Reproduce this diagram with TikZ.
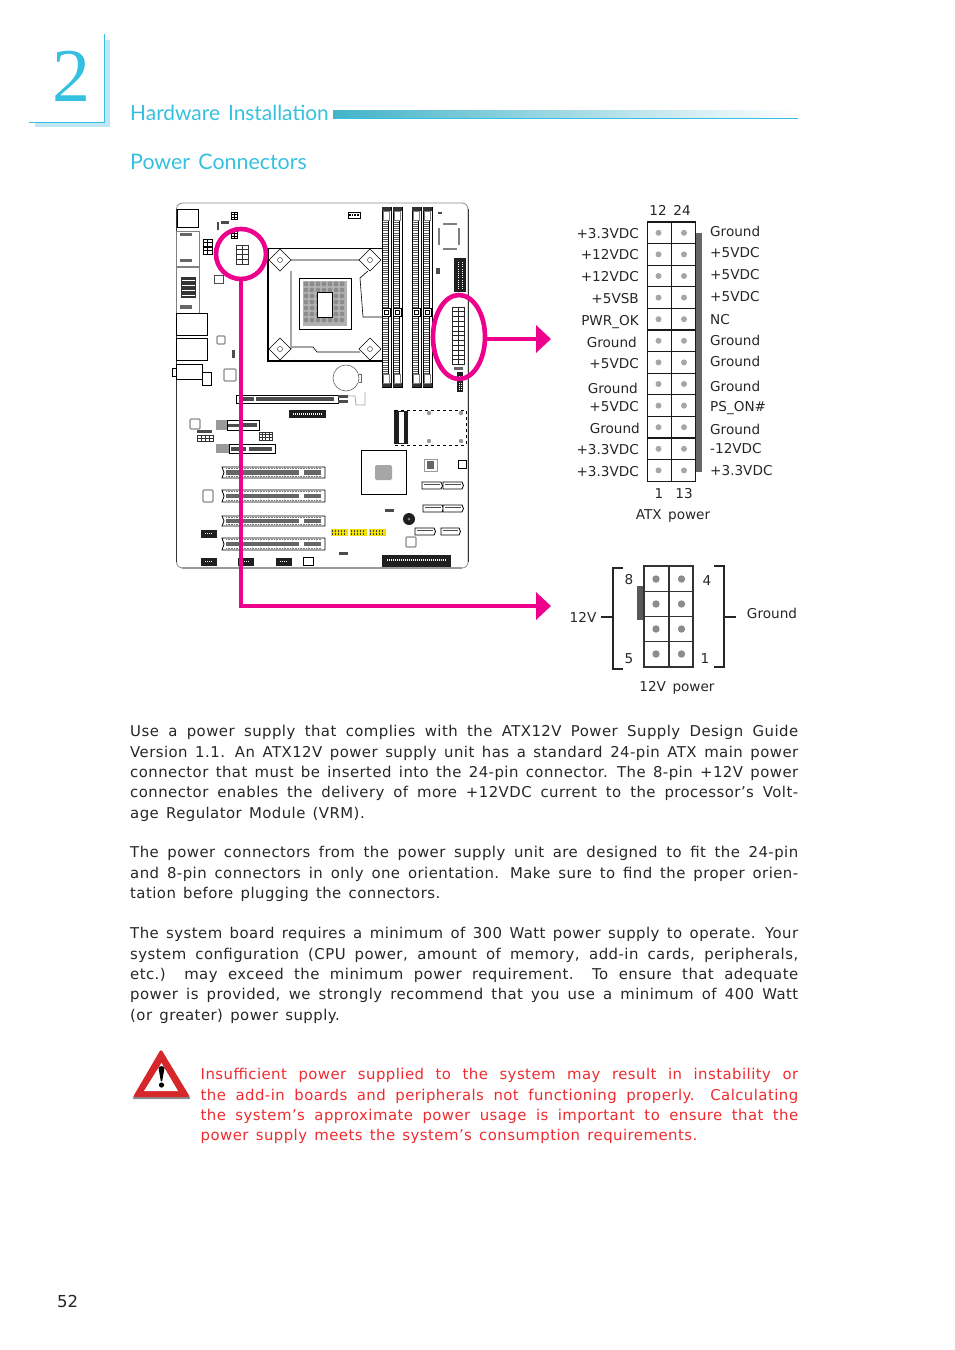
\documentclass[tikz,border=0pt]{standalone}
\usepackage{fontspec}
\setmainfont{DejaVu Sans}
\newfontfamily\bodyfont[LetterSpace=3, WordSpace=1.4]{DejaVu Sans}
\newfontfamily\labelfont[WordSpace=1.5]{DejaVu Sans}
\newfontfamily\headfont[WordSpace=1.5]{Lato}
\newfontfamily\numfont{Liberation Serif}
\usetikzlibrary{positioning, arrows.meta, shapes.geometric}
\definecolor{headcyan}{HTML}{35C0DF}
\definecolor{headshade}{HTML}{BFE6F1}
\definecolor{barteal}{HTML}{43B4C8}
\definecolor{ringpink}{HTML}{EC008C}
\definecolor{warnred}{HTML}{EE2B2F}
\definecolor{pinyellow}{HTML}{F0E000}
\newcommand{\pingrid}[6][black]{%
	\foreach \pc in {1,...,#4} \foreach \pr in {1,...,#5}
	\draw[#1, line width=.7, fill=white] ({#2+(\pc-1)*#6},{#3+(\pr-1)*#6*.8}) rectangle ++(#6,{#6*.8});
}
\newcommand{\dimmslot}[1]{%
	\draw[line width=.8, fill=white] (#1,207) rectangle ++(9,180);
	\foreach \ty in {222,224.2,...,376} {
		\draw[black!65, line width=.9] (#1+.5,\ty) -- ++(5,0);
	}
	\draw[line width=.6] (#1+6.5,220) -- ++(0,156);
	\fill[black!80] (#1,207) rectangle ++(9,4);
	\fill[black!80] (#1,383) rectangle ++(9,4);
	\draw[gray, fill=white, line width=.5] (#1+1.5,211) rectangle ++(6,9);
	\draw[gray, fill=white, line width=.5] (#1+1.5,374) rectangle ++(6,9);
	\draw[fill=white, line width=.8] (#1+.5,308) rectangle ++(8,8);
	\draw[line width=.8, fill=white] (#1+2.5,310) rectangle ++(4,4);
}
\newcommand{\pcislot}[2]{%
	\draw[line width=.8, fill=white] (222,#1) -- (325,#1) -- (325,#1+#2) -- (222,#1+#2) -- (224,#1+#2/2) -- cycle;
	\fill[black!60] (226,#1+#2/2-2.2) rectangle (299,#1+#2/2+2);
	\fill[black!60] (304,#1+#2/2-2.2) rectangle (321,#1+#2/2+2);
	\draw[black!55, line width=.7, dash pattern=on .8pt off .8pt] (226,#1+1.5) -- (321,#1+1.5);
	\draw[black!55, line width=.7, dash pattern=on .8pt off .8pt] (226,#1+#2-1.5) -- (321,#1+#2-1.5);
}
\newcommand{\sataport}[3]{%
	\draw[line width=.8, fill=white] (#1,#2) -- ++(#3,0) -- ++(1.5,3.5) -- ++(-1.5,3.5) -- ++(-#3,0) -- cycle;
	\fill[black!70] (#1+2,#2+1.5) rectangle ++(#3-3,1.5);
}
\begin{document}
\begin{tikzpicture}[
		x=1pt, y=-1pt,
		>=Stealth,
		bodytext/.style={anchor=north west, inner sep=0pt, align=justify, font=\bodyfont\fontsize{14.9}{20.35}\selectfont, text=black!85},
		pinlabel/.style={inner sep=0pt, text height=10pt, text depth=0pt, font=\labelfont\fontsize{13.6}{16}\selectfont, text=black!85},
		headtext/.style={anchor=base west, inner sep=0pt, text=headcyan},
		blackpart/.style={fill=black!88},
		greyring/.style={draw=black!45, line width=1.2, rounded corners=1pt},
		pinkring/.style={draw=ringpink, line width=4.6, inner sep=0pt, outer sep=0pt},
		pinkline/.style={draw=ringpink, line width=4.6, -{Triangle[length=15pt,width=27pt]}},
		bracket/.style={line width=1.5, black!85}
		]
		\useasboundingbox (0,0) rectangle (954,1350);
		
		% ==========================================
		% Page header
		% ==========================================
		\fill[headshade] (35,122) rectangle (110,127);
		\fill[headshade] (104,40) rectangle (110,127);
		\draw[headcyan, line width=1] (29,122) -- (104,122) -- (104,34);
		\node (chapter) [anchor=base, inner sep=0pt, font=\numfont\fontsize{76}{80}\selectfont, text=headcyan] at (71,101) {2};
		\node (section) [headtext, font=\headfont\fontsize{20.9}{26}\selectfont] at (130,120) {Hardware Installation};
		\node (subsection) [headtext, font=\headfont\fontsize{21.4}{26}\selectfont] at (130,169) {Power Connectors};
		\shade[left color=barteal, middle color=headcyan!60, right color=white] (333,110) rectangle (798,118);
		\draw[headcyan, line width=1] (333,118.5) -- (798,118.5);
		
		% ==========================================
		% Board outline and rear ports
		% ==========================================
		\draw[black!45, line width=.8, rounded corners=6pt, fill=white] (176.5,203) rectangle (468,568);
		\draw[black!80, line width=.8] (176.5,209) -- (176.5,562);
		\draw[black!80, line width=.8] (468,209) -- (468,562);
		\draw[black!40, line width=1.6] (182,568) -- (462,568);
		\draw[line width=.7, fill=white] (177,209) rectangle (198,227);
		\draw[black!50, line width=.7, fill=white] (176,231) rectangle (199,266);
		\draw[black!50, line width=.7, fill=white] (176,267) rectangle (199,313);
		\fill[black!80] (181,277) rectangle (196,298);
		\foreach \ry in {280,285,290,295} {
			\draw[white, line width=.8] (182,\ry) -- (195,\ry);
		}
		\fill[black!60] (180,233) rectangle (192,236);
		\fill[black!60] (180,259) rectangle (192,262);
		\fill[black!60] (180,305) rectangle (192,309);
		\draw[line width=.7, fill=white] (176,313) rectangle (207,335);
		\draw[line width=.7, fill=white] (176,338) rectangle (207,360);
		\draw[line width=.7, fill=white] (176,364) rectangle (202,379);
		\draw[line width=.7, fill=white] (172,368) rectangle (176,376);
		\draw[line width=.7, fill=white] (202,372) rectangle (211,385);
		
		% small headers, top left
		\pingrid{231}{212}{2}{3}{3.2}
		\pingrid{231}{231}{2}{3}{3.2}
		\pingrid{203}{239}{2}{2}{4.8}
		\pingrid{203}{247}{2}{2}{4.8}
		\fill[black!70] (221,221) rectangle (229,224);
		\fill[black!70] (217,222) rectangle (219,230);
		\draw[black!70, line width=.7] (214,275) rectangle (223,283);
		\draw[greyring] (217,336) rectangle (225,344);
		\fill[black!70] (232,350) rectangle (235,358);
		\draw[greyring] (224,369) rectangle (236,381);
		\pingrid[black!80]{236}{245}{2}{4}{6}
		\draw[line width=.8, fill=white] (348,212) rectangle (360,218);
		\draw[line width=2, dash pattern=on 1.5pt off 1.2pt] (349,215) -- (359,215);
		
		% ==========================================
		% CPU socket
		% ==========================================
		\draw[line width=.8] (268,248) -- (382,248);
		\draw[line width=1.2] (268,248) -- (268,361) -- (382,361);
		\draw[line width=.6] (291,260) -- (360,260) (291,271) -- (291,349) (292,347) -- (313,347) -- (317,352) -- (360,352)
		(368,271) -- (360,278) -- (363,317) -- (382,317);
		\foreach \sx/\sy in {280/260, 370/260, 280/349, 370/349} {
			\draw[line width=.6, fill=white] (\sx-11,\sy) -- (\sx,\sy-11) -- (\sx+11,\sy) -- (\sx,\sy+11) -- cycle;
			\draw[black!70, line width=.5] (\sx,\sy) circle (2.5);
		}
		\draw[line width=1, fill=white] (299,278) rectangle (351,329);
		\fill[black!30] (303,281) rectangle (347,326);
		\foreach \cx in {306,312,...,346} \foreach \cy in {284,290,...,324} {
			\fill[black!45] (\cx,\cy) circle (2.4);
		}
		\draw[line width=1, fill=white] (317,292) rectangle (332,317);
		
		% ==========================================
		% Memory slots and right edge
		% ==========================================
		\foreach \dx in {382,393,412,423} {
			\dimmslot{\dx}
		}
		\fill[black!70] (438,212) rectangle (442,214);
		\draw[black!50, line width=2.6] (443,224) -- (457,224) (443,249) -- (457,249) (439,228) -- (439,245) (459,228) -- (459,245);
		\fill[blackpart] (454,258) rectangle (466,292);
		\draw[white, line width=.9, dash pattern=on 1pt off 1.2pt] (458,262) -- (458,290) (462,262) -- (462,290);
		\fill[black!70] (436,268) rectangle (440,274);
		\pingrid[black!85]{452}{307}{2}{12}{6}
		\fill[black!60] (454,367) rectangle (463,370);
		\fill[blackpart] (457,372) rectangle (463,392);
		\draw[white, line width=.9, dash pattern=on 1pt off 1.2pt] (459,376) -- (459,391) (461,376) -- (461,391);
		\draw[black!60, line width=.6, fill=white] (346,378) circle (13);
		\draw[black!60, line width=.6] (359,374) -- (361,374) -- (361,382) -- (359,382);
		
		% ==========================================
		% Expansion slots
		% ==========================================
		\draw[line width=.8, fill=white] (236,395) rectangle (338,403);
		\fill[black!70] (240,397) rectangle (254,401);
		\fill[black!70] (256,397) rectangle (334,401);
		\fill[black!70] (338,395) rectangle (348,398);
		\fill[black!70] (338,400) rectangle (348,403);
		\draw[black!35, line width=.8] (348,396) -- (355,396) -- (356,405) -- (365,405) -- (365,392);
		\fill[blackpart] (289,410) rectangle (326,418);
		\draw[white, line width=1.2, dash pattern=on 1pt off 1pt] (293,414) -- (322,414);
		\draw[greyring] (190,419) rectangle (200,429);
		\fill[black!70] (197,430) rectangle (212,433);
		\pingrid[black!80]{197}{435}{4}{2}{4}
		\draw[line width=.8, fill=white] (227,420) rectangle (259,430);
		\fill[black!40] (216,420) rectangle (227,430);
		\fill[black!70] (228,424) rectangle (242,427);
		\fill[black!70] (243,423) rectangle (257,427);
		\draw[line width=.8, fill=white] (229,444) rectangle (275,453);
		\fill[black!40] (216,444) rectangle (229,453);
		\fill[black!70] (231,447) rectangle (246,451);
		\fill[black!70] (249,447) rectangle (272,451);
		\pingrid[black!80]{259}{432}{4}{3}{3.3}
		\pcislot{467}{11}
		\pcislot{490}{12}
		\pcislot{516}{10}
		\pcislot{538}{12}
		\draw[greyring] (203,490) rectangle (213,502);
		
		% ==========================================
		% Lower right parts
		% ==========================================
		\draw[line width=.9, dashed] (394,410) rectangle (466,445);
		\fill[blackpart] (394,411) rectangle (408,444);
		\fill[white] (399,412) rectangle (404,443);
		\foreach \hx/\hy in {429/413, 461/413, 429/441, 461/441} {
			\fill[black!40] (\hx,\hy) circle (2.2);
		}
		\draw[line width=.8, fill=white] (361,450) rectangle (406,494);
		\fill[black!35, rounded corners=1.5pt] (375,465) rectangle (392,480);
		\draw[black!40, line width=.7] (424,459) rectangle (437,471);
		\fill[black!60] (427,461) rectangle (434,469);
		\draw[line width=.9, fill=white] (458,460) rectangle (466,468);
		\sataport{422}{482}{19}
		\sataport{443}{482}{19}
		\sataport{423}{505}{19}
		\sataport{443}{505}{19}
		\sataport{415}{528}{19}
		\sataport{441}{528}{18}
		\fill[blackpart] (409,519) circle (6);
		\fill[black!50] (409,519) circle (1.5);
		\draw[greyring] (406,537) rectangle (416,547);
		\foreach \yx in {331,350,369} {
			\fill[pinyellow] (\yx,529) rectangle ++(17,7);
			\draw[black!75, line width=1.5, dash pattern=on 1pt off 2pt] (\yx+1,531) -- ++(15,0);
			\draw[black!75, line width=1.5, dash pattern=on 1pt off 2pt] (\yx+1,534) -- ++(15,0);
		}
		\fill[black!70] (385,509) rectangle (394,512);
		\fill[black!70] (339,552) rectangle (348,555);
		\foreach \bx/\by in {201/530, 201/558, 238/558, 276/558} {
			\fill[blackpart] (\bx,\by) rectangle ++(16,8);
			\draw[white, line width=1, dash pattern=on 1pt off 1pt] (\bx+4,\by+3) -- ++(8,0);
		}
		\draw[line width=.8, fill=white] (303,557) rectangle (313,565);
		\fill[blackpart] (382,555) rectangle (451,567);
		\draw[white, line width=1.4, dash pattern=on 1pt off 1pt] (387,560) -- (446,560);
		
		% ==========================================
		% Rings and arrows
		% ==========================================
		\node (cpuring) [pinkring, circle, minimum size=50pt] at (241,254) {};
		\node (atxring) [pinkring, ellipse, minimum width=52pt, minimum height=84pt] at (459,337) {};
		\coordinate (atxhead) at (551,339);
		\coordinate (pwrhead) at (551,606);
		\draw[pinkline] (atxring.east |- atxhead) -- (atxhead);
		\draw[pinkline] (cpuring.south) -- (cpuring.south |- pwrhead) -- (pwrhead);
		
		% ==========================================
		% ATX power connector
		% ==========================================
		\fill[black!60] (695.5,233) rectangle (702,472);
		\foreach \rw in {0,...,11} {
			\draw[line width=1.3, black!90, fill=white] (647.5,{222+\rw*21.6}) rectangle ++(24,21.6);
			\draw[line width=1.3, black!90, fill=white] (671.5,{222+\rw*21.6}) rectangle ++(24,21.6);
			\fill[black!35] (658.5,{232.8+\rw*21.6}) circle (3);
			\fill[black!35] (684,{232.8+\rw*21.6}) circle (3);
		}
		\foreach \ly/\lx/\ltext in {233.5/639/+3.3VDC, 254.5/639/+12VDC, 276/639/+12VDC, 298/639/+5VSB, 320/639/PWR\_OK, 342/637/Ground, 363/639/+5VDC, 388/638/Ground, 406/639/+5VDC, 428/640/Ground, 449/639/+3.3VDC, 471/639/+3.3VDC} {
			\node[pinlabel, anchor=east] at (\lx,\ly) {\ltext};
		}
		\foreach \ly/\ltext in {231/Ground, 252/+5VDC, 274/+5VDC, 296/+5VDC, 319/NC, 340/Ground, 361/Ground, 386/Ground, 406/PS\_ON\#, 429/Ground, 448/-12VDC, 470/+3.3VDC} {
			\node[pinlabel, anchor=west] at (710,\ly) {\ltext};
		}
		\node (atxtop) [pinlabel] at (658,210) {12};
		\node (atxtopb) [pinlabel] at (682,210) {24};
		\node (atxbot) [pinlabel] at (659,493) {1};
		\node (atxbotb) [pinlabel] at (684,493) {13};
		\node (atxname) [pinlabel] at (673,514) {ATX power};
		
		% ==========================================
		% 12V power connector
		% ==========================================
		\fill[black!65] (637,586) rectangle (643.5,620);
		\foreach \rw in {0,...,3} {
			\draw[line width=1.1, black!80, fill=white] (644,{566+\rw*25.25}) rectangle ++(25,25.25);
			\draw[line width=1.1, black!80, fill=white] (669,{566+\rw*25.25}) rectangle ++(24,25.25);
			\fill[black!45] (656,{579+\rw*25}) circle (3.7);
			\fill[black!45] (681.5,{579+\rw*25}) circle (3.7);
		}
		\draw[bracket] (623,568) -- (613,568) -- (613,669) -- (623,669);
		\draw[bracket] (714,566) -- (724,566) -- (724,667) -- (714,667);
		\node (vlabel) [pinlabel] at (583,617) {12V};
		\node (gndlabel) [pinlabel] at (772,613) {Ground};
		\coordinate (vtick) at (613,617);
		\coordinate (gndtick) at (724,617);
		\draw[bracket] (vlabel.east) ++(4,0) -- (vtick);
		\draw[bracket] (gndtick) -- ++(12,0);
		\node (pineight) [pinlabel] at (629,579) {8};
		\node (pinfive) [pinlabel] at (629,658) {5};
		\node (pinfour) [pinlabel] at (707,580) {4};
		\node (pinone) [pinlabel] at (705,658) {1};
		\node (pwrname) [pinlabel] at (677,686) {12V power};
		
		% ==========================================
		% Body text
		% ==========================================
		\node (paraone) [bodytext, text width=668pt] at (130,725.2) {Use a power supply that complies with the ATX12V Power Supply Design Guide\linebreak
			Version 1.1. An ATX12V power supply unit has a standard 24-pin ATX main power\linebreak
			connector that must be inserted into the 24-pin connector. The 8-pin +12V power\linebreak
			connector enables the delivery of more +12VDC current to the processor’s Volt-\linebreak
			age Regulator Module (VRM).};
		\node (paratwo) [bodytext, text width=668pt] at (130,846.2) {The power connectors from the power supply unit are designed to fit the 24-pin\linebreak
			and 8-pin connectors in only one orientation. Make sure to find the proper orien-\linebreak
			tation before plugging the connectors.};
		\node (parathree) [bodytext, text width=668pt] at (130,927.2) {The system board requires a minimum of 300 Watt power supply to operate. Your\linebreak
			system configuration (CPU power, amount of memory, add-in cards, peripherals,\linebreak
			etc.) may exceed the minimum power requirement. To ensure that adequate\linebreak
			power is provided, we strongly recommend that you use a minimum of 400 Watt\linebreak
			(or greater) power supply.};
		\node (warning) [bodytext, text width=597.5pt, text=warnred] at (200.5,1068.2) {Insufficient power supplied to the system may result in instability or\linebreak
			the add-in boards and peripherals not functioning properly. Calculating\linebreak
			the system’s approximate power usage is important to ensure that the\linebreak
			power supply meets the system’s consumption requirements.};
		
		% warning sign
		\fill[black!45, rounded corners=2pt] (161,1050) -- (191,1099) -- (132,1099) -- cycle;
		\fill[warnred!90!black, rounded corners=2.5pt] (161,1049) -- (190,1097) -- (133,1097) -- cycle;
		\fill[white] (161.5,1063) -- (178,1091) -- (144,1091) -- cycle;
		\fill[black] (158.5,1068) .. controls (159,1065.5) and (164,1065.5) .. (164.5,1068) -- (162.2,1081) -- (160.8,1081) -- cycle;
		\fill[black] (161.5,1085) circle (2.6);
		
		\node (pagenum) [anchor=base west, inner sep=0pt, font=\fontsize{16.5}{20}\selectfont, text=black!85] at (57,1307) {52};
		
	\end{tikzpicture}
\end{document}
